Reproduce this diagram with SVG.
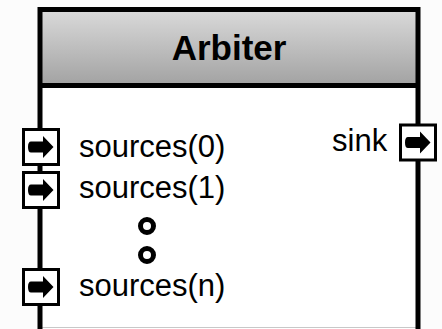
<svg xmlns="http://www.w3.org/2000/svg" width="442" height="329" viewBox="0 0 442 329">
  <style>
    .frame { fill: none; stroke: #000; stroke-width: 5; }
    .title { font-family: "Liberation Sans", Arial, sans-serif; font-size: 35px; font-weight: bold; fill: #000; text-anchor: middle; }
    .label { font-family: "Liberation Sans", Arial, sans-serif; font-size: 31px; fill: #000; }
    .portbox { fill: #fff; stroke: #000; stroke-width: 3; }
    .arrow { fill: #000; }
    .dot { fill: none; stroke: #000; stroke-width: 5; }
  </style>
  <defs>
    <linearGradient id="headFill" x1="0" y1="0" x2="0" y2="1">
      <stop offset="0" stop-color="#dadada"/>
      <stop offset="1" stop-color="#a2a2a2"/>
    </linearGradient>
    <!-- port glyph: square with a heavy right-pointing arrow -->
    <g id="port">
      <rect class="portbox" x="-17.5" y="-17.5" width="35" height="35"/>
      <path class="arrow" d="M -10 -5.5 L 2 -5.5 L 2 -11 L 12.5 0 L 2 11 L 2 5.5 L -10 5.5 Q -13 5.5 -13 0 Q -13 -5.5 -10 -5.5 Z"/>
    </g>
  </defs>

  <rect width="442" height="329" fill="#fcfcfc"/>

  <g id="arbiter">
    <rect x="40" y="9.5" width="378" height="330" fill="#fff"/>
    <rect x="40" y="9.5" width="378" height="76" fill="url(#headFill)"/>
    <line x1="40" y1="327.5" x2="418" y2="327.5" stroke="#c8c8c8" stroke-width="1"/>
    <path class="frame" d="M 40 335 L 40 9.5 L 418 9.5 L 418 335"/>
    <line class="frame" x1="40" y1="85.5" x2="418" y2="85.5"/>
    <text class="title" x="229" y="60">Arbiter</text>
  </g>

  <g id="connectors"></g>

  <g id="port-sources-0">
    <use href="#port" x="41" y="147"/>
    <text class="label" x="79" y="157">sources(0)</text>
  </g>
  <g id="port-sources-1">
    <use href="#port" x="41" y="190"/>
    <text class="label" x="79" y="198">sources(1)</text>
  </g>
  <g id="ellipsis">
    <circle class="dot" cx="147" cy="226" r="6.5"/>
    <circle class="dot" cx="147" cy="255" r="6.5"/>
  </g>
  <g id="port-sources-n">
    <use href="#port" x="41" y="287"/>
    <text class="label" x="79" y="296">sources(n)</text>
  </g>
  <g id="port-sink">
    <use href="#port" x="418" y="142.5"/>
    <text class="label" x="332" y="151">sink</text>
  </g>
</svg>
